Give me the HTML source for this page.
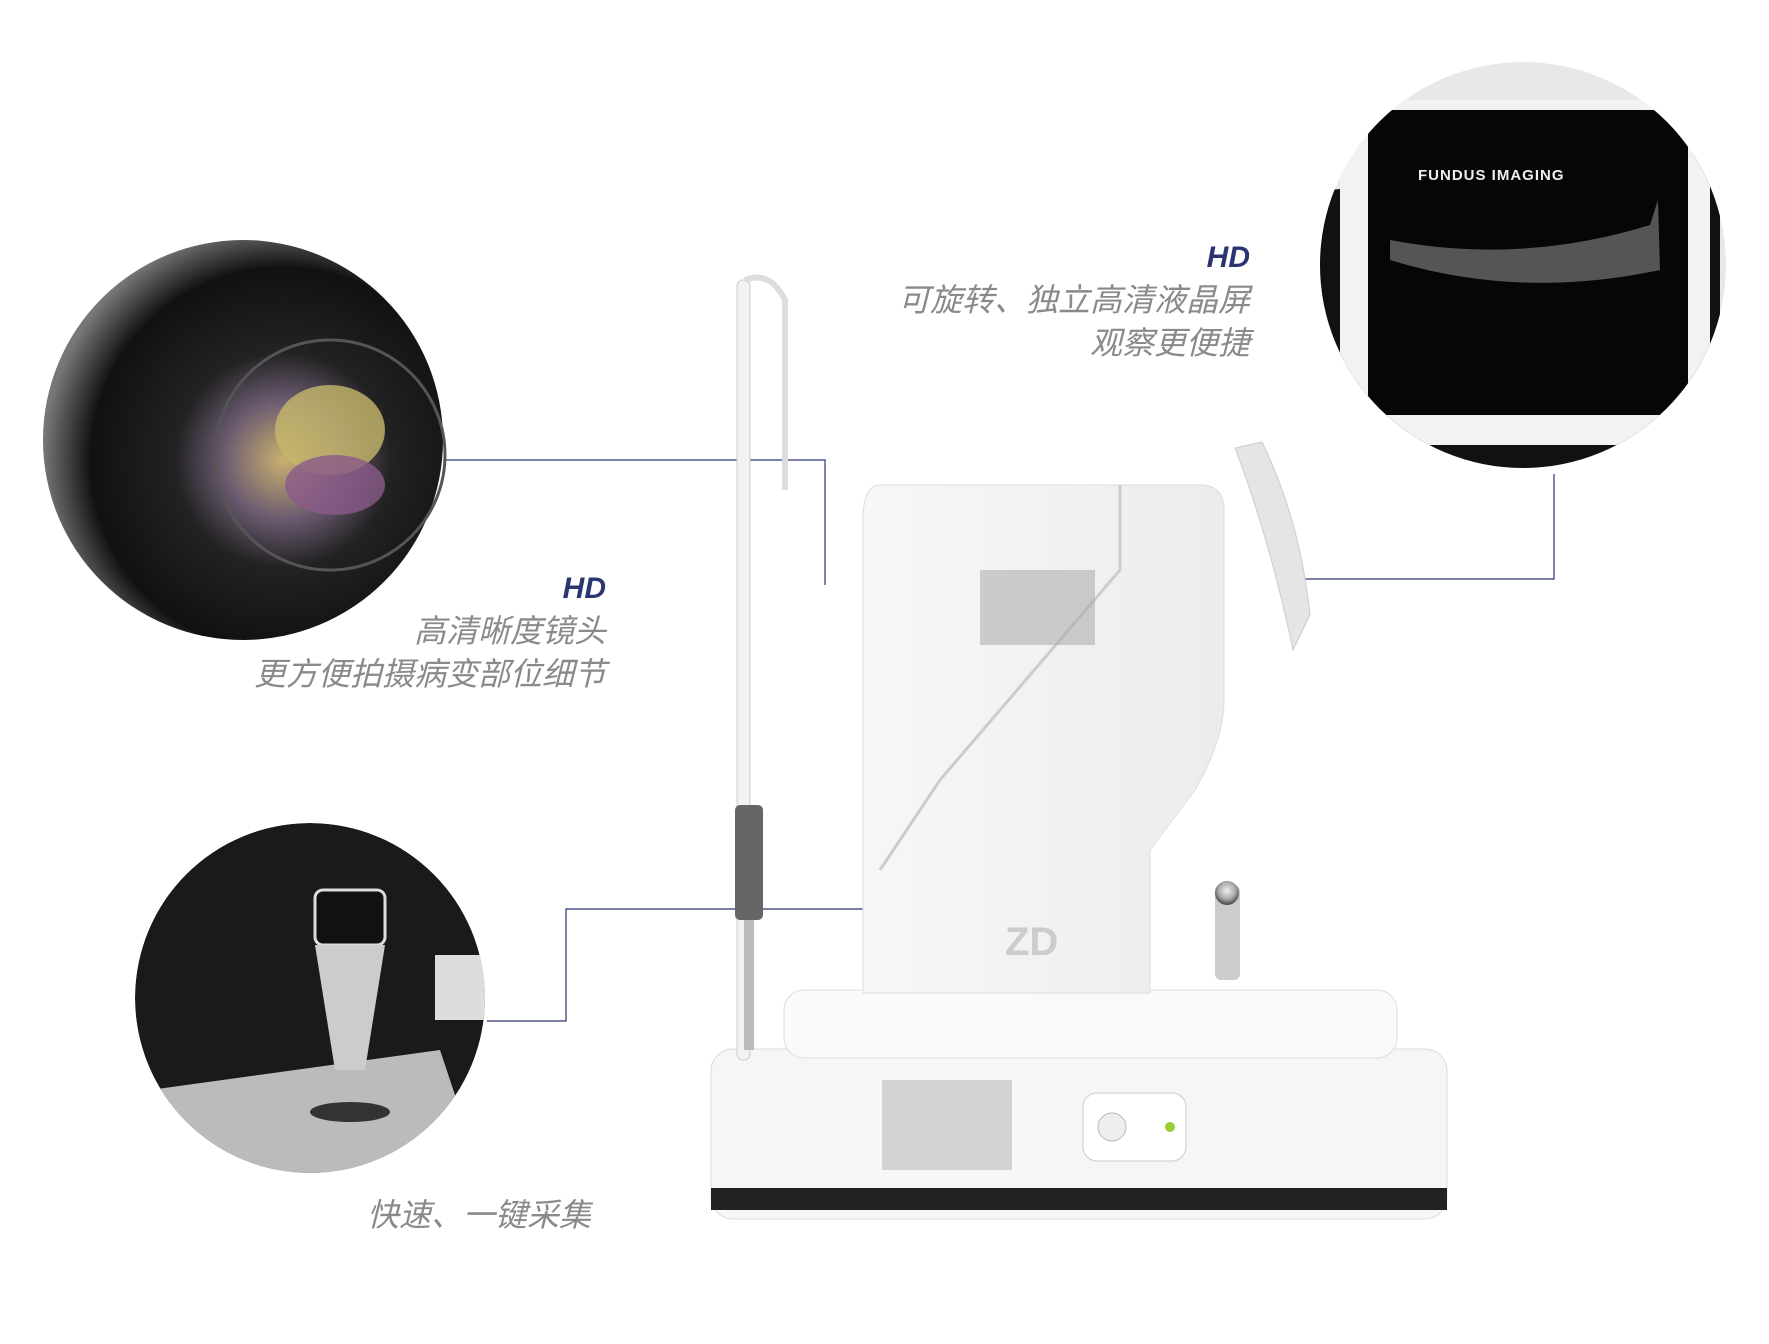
<!DOCTYPE html>
<html><head><meta charset="utf-8"><style>
body{margin:0;width:1769px;height:1344px;background:#fff;position:relative;overflow:hidden;font-family:"Liberation Sans","Noto Sans CJK SC",sans-serif}
.t{position:absolute;color:#8a8a8a;font-size:32px;font-style:italic;text-align:right;line-height:43px}
.hd{color:#2b3572;font-weight:bold;font-size:30px}
</style></head><body>
<svg width="1769" height="1344" style="position:absolute;left:0;top:0">
<defs>
<radialGradient id="lens" cx="0.6" cy="0.55" r="0.6"><stop offset="0" stop-color="#c9b070"/><stop offset="0.25" stop-color="#6a5a70"/><stop offset="0.45" stop-color="#222"/><stop offset="0.8" stop-color="#111"/><stop offset="1" stop-color="#777"/></radialGradient>
<radialGradient id="btn" cx="0.5" cy="0.4" r="0.7"><stop offset="0" stop-color="#f0f0f0"/><stop offset="0.5" stop-color="#aaa"/><stop offset="1" stop-color="#1a1a1a"/></radialGradient>
<linearGradient id="body" x1="0" x2="1"><stop offset="0" stop-color="#f7f7f7"/><stop offset="1" stop-color="#ececec"/></linearGradient>
<clipPath id="c1"><circle cx="1523" cy="265" r="203"/></clipPath>
<clipPath id="c2"><circle cx="310" cy="998" r="175"/></clipPath>
</defs>
<g fill="none" stroke="#2b3572" stroke-width="1.2">
<polyline points="443,460 825,460 825,585"/>
<polyline points="1554,474 1554,579 1303,579"/>
<polyline points="487,1021 566,1021 566,909 863,909"/>
</g>
<circle cx="243" cy="440" r="200" fill="url(#lens)"/>
<circle cx="330" cy="455" r="115" fill="none" stroke="#555" stroke-width="3"/>
<ellipse cx="330" cy="430" rx="55" ry="45" fill="#c7b86a" opacity="0.8"/>
<ellipse cx="335" cy="485" rx="50" ry="30" fill="#8a5a8a" opacity="0.8"/>
<g clip-path="url(#c1)">
<circle cx="1523" cy="265" r="203" fill="#e8e8e8"/>
<path d="M1330 190 Q1300 300 1340 380 L1400 470 L1720 470 L1720 150 Z" fill="#111"/>
<rect x="1340" y="100" width="370" height="345" rx="30" fill="#f2f2f2"/>
<rect x="1368" y="110" width="320" height="305" fill="#060606"/>
<text x="1418" y="180" fill="#eee" font-size="15" font-weight="bold" font-family="Liberation Sans,sans-serif" letter-spacing="1">FUNDUS IMAGING</text>
<path d="M1390 240 Q1520 265 1650 225 L1658 200 L1660 270 Q1520 300 1390 260Z" fill="#777" opacity="0.7"/>
</g>
<g clip-path="url(#c2)">
<circle cx="310" cy="998" r="175" fill="#1a1a1a"/>
<path d="M150 1090 L440 1050 L490 1200 L150 1200Z" fill="#bbb"/>
<rect x="435" y="955" width="50" height="65" fill="#ddd"/>
<rect x="315" y="890" width="70" height="55" rx="8" fill="#111" stroke="#ddd" stroke-width="3"/>
<path d="M315 945 L385 945 L365 1070 L335 1070Z" fill="#ccc"/>
<ellipse cx="350" cy="1112" rx="40" ry="10" fill="#333"/>
</g>
<rect x="711" y="1049" width="736" height="170" rx="22" fill="#f6f6f6" stroke="#ddd"/>
<rect x="711" y="1188" width="736" height="22" fill="#222"/>
<rect x="784" y="990" width="613" height="68" rx="20" fill="#fafafa" stroke="#ddd"/>
<rect x="882" y="1080" width="130" height="90" fill="#bbb" opacity="0.6"/>
<rect x="1083" y="1093" width="103" height="68" rx="14" fill="#fff" stroke="#ccc"/>
<circle cx="1112" cy="1127" r="14" fill="#eee" stroke="#bbb"/>
<circle cx="1170" cy="1127" r="5" fill="#9c3"/>
<path d="M880 485 L1200 485 Q1224 485 1224 510 L1224 700 Q1224 740 1195 790 L1150 850 L1150 993 L863 993 L863 520 Q863 485 880 485Z" fill="url(#body)" stroke="#ddd"/>
<path d="M1120 485 L1120 570 L940 780 L880 870" fill="none" stroke="#ccc" stroke-width="3"/>
<rect x="980" y="570" width="115" height="75" fill="#aaa" opacity="0.55"/>
<text x="1005" y="955" fill="#ccc" font-size="40" font-weight="bold" font-family="Liberation Sans,sans-serif">ZD</text>
<path d="M1235 448 L1262 442 Q1300 520 1310 615 L1293 650 Q1270 540 1235 448Z" fill="#e5e5e5" stroke="#ccc"/>
<rect x="737" y="280" width="13" height="780" rx="6" fill="#f2f2f2" stroke="#ccc"/>
<path d="M745 280 Q770 270 785 300 L785 490" fill="none" stroke="#ddd" stroke-width="6"/>
<rect x="735" y="805" width="28" height="115" rx="5" fill="#666"/>
<rect x="744" y="920" width="10" height="130" fill="#bbb"/>
<rect x="1215" y="885" width="25" height="95" rx="6" fill="#ccc"/>
<circle cx="1227" cy="893" r="12" fill="url(#btn)"/>
</svg>
<div class="t" style="right:519px;top:236px"><div class="hd">HD</div>可旋转、独立高清液晶屏<br>观察更便捷</div>
<div class="t" style="right:1163px;top:567px"><div class="hd">HD</div>高清晰度镜头<br>更方便拍摄病变部位细节</div>
<div class="t" style="left:367px;top:1194px">快速、一键采集</div>
</body></html>
